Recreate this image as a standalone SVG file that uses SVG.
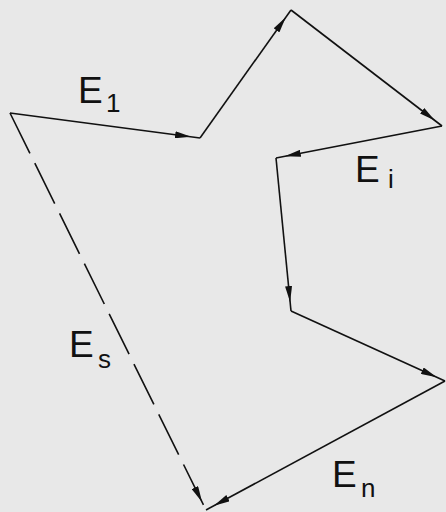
<svg xmlns="http://www.w3.org/2000/svg" width="446" height="512" viewBox="0 0 446 512">
<defs>
<style>
.e{stroke:#111;stroke-width:1.6;fill:none;marker-end:url(#ah)}
.d{stroke-dasharray:45 11}
.lb{font-family:"Liberation Sans",Arial,sans-serif;fill:#111}
.big{font-size:37px}
.sub{font-size:26px}
</style>
<marker id="ah" viewBox="0 0 16 7" refX="25" refY="3.5" markerWidth="16" markerHeight="7" markerUnits="userSpaceOnUse" orient="auto">
<path d="M0,0 L16,3.5 L0,7 z" fill="#111"/>
</marker>
</defs>
<rect width="446" height="512" fill="#e8e8e8"/>
<g id="connectors">
<line class="e" x1="10" y1="113" x2="200" y2="138"/>
<line class="e" x1="200" y1="138" x2="291" y2="10"/>
<line class="e" x1="291" y1="10" x2="442" y2="126"/>
<line class="e" x1="442" y1="126" x2="276" y2="158"/>
<line class="e" x1="276" y1="158" x2="291" y2="311"/>
<line class="e" x1="291" y1="311" x2="445" y2="381"/>
<line class="e" x1="445" y1="381" x2="206" y2="510"/>
<line class="e d" x1="10" y1="113" x2="206" y2="510"/>
</g>
<g id="label-E1"><text class="lb" x="78" y="103"><tspan class="big">E</tspan><tspan class="sub" x="106" y="112">1</tspan></text></g>
<g id="label-Ei"><text class="lb" x="355" y="182"><tspan class="big">E</tspan><tspan class="sub" x="388" y="188">i</tspan></text></g>
<g id="label-Es"><text class="lb" x="69" y="357"><tspan class="big">E</tspan><tspan class="sub" x="98" y="368">s</tspan></text></g>
<g id="label-En"><text class="lb" x="332" y="487"><tspan class="big">E</tspan><tspan class="sub" x="361" y="497">n</tspan></text></g>
</svg>
